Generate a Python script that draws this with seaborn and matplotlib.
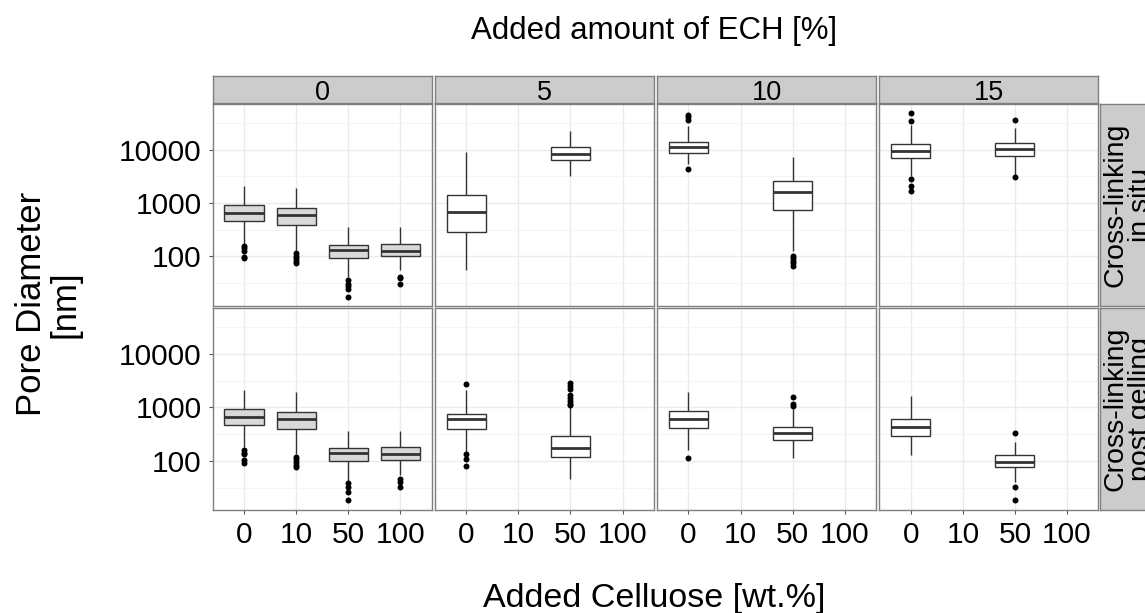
import numpy as np
import pandas as pd
import matplotlib
matplotlib.use("Agg")
import matplotlib.pyplot as plt
import seaborn as sns
from matplotlib.ticker import FixedLocator, FuncFormatter, NullFormatter

# ------------------------------------------------------------------ data
row_labels = ["Cross-linking\nin situ", "Cross-linking\npost gelling"]
ech_levels = ["0", "5", "10", "15"]
cellulose_levels = ["0", "10", "50", "100"]

box_row = [0, 0, 0, 0, 0, 0, 0, 0, 0, 0,
           1, 1, 1, 1, 1, 1, 1, 1, 1, 1]
box_ech = ["0", "0", "0", "0", "5", "5", "10", "10", "15", "15",
           "0", "0", "0", "0", "5", "5", "10", "10", "15", "15"]
box_cellulose = ["0", "10", "50", "100", "0", "50", "0", "50", "0", "50",
                 "0", "10", "50", "100", "0", "50", "0", "50", "0", "50"]

whisker_low = [173, 130, 41, 56, 55, 3160, 5390, 128, 3260, 3400,
               182, 133, 40.6, 54, 147, 45, 158, 114, 128, 40.6]
q1 = [467, 388, 93, 102, 290, 6410, 8530, 741, 6870, 7620,
      476, 385, 97.5, 104.5, 389, 117, 412, 240, 288, 75]
median = [650, 597, 135, 129, 679, 8300, 11040, 1610, 9290, 10440,
          671, 616, 139, 135, 616, 175, 616, 324, 425, 96]
q3 = [918, 818, 166, 171, 1416, 11040, 13900, 2590, 12790, 13130,
      930, 832, 170, 178, 764, 288, 853, 430, 598, 126]
whisker_high = [2113, 1915, 360, 360, 9170, 22400, 27000, 7180, 28200, 25100,
                2136, 1928, 353, 353, 2070, 1044, 1928, 946, 1603, 226]
outliers = [
    [159, 141, 128, 99, 93],
    [114, 102, 93, 83, 74],
    [36, 31, 28, 24.5, 17.8],
    [42, 40, 30],
    [],
    [],
    [44700, 40300, 36000, 4350],
    [103, 93, 83, 74, 65],
    [47900, 33900, 2770, 2113, 1650],
    [36000, 3080],
    [158, 141, 133, 103, 92],
    [119, 106, 95, 84, 77],
    [38, 32, 26.5, 18.5],
    [45, 40.6, 32],
    [2760, 133, 106, 80],
    [2840, 2460, 2230, 1675, 1472, 1294, 1162, 1120],
    [111],
    [1556, 1137, 1076],
    [],
    [324, 32, 18.5],
]

y_ticks = [100, 1000, 10000]
y_minor = [31.62, 316.2, 3162, 31623]

# ------------------------------------------------------------------ tables
box_records = []
out_records = []
for i in range(len(box_row)):
    for v in (whisker_low[i], q1[i], median[i], q3[i], whisker_high[i]):
        box_records.append(dict(row=box_row[i], ech=box_ech[i],
                                cellulose=box_cellulose[i], diameter=v))
    for v in outliers[i]:
        out_records.append(dict(row=box_row[i], ech=box_ech[i],
                                cellulose=box_cellulose[i], diameter=v))
box_df = pd.DataFrame(box_records)
out_df = pd.DataFrame(out_records)

# ------------------------------------------------------------------ style
plt.rcParams["font.family"] = ["Liberation Sans", "DejaVu Sans"]

W, H = 1145, 613
fig = plt.figure(figsize=(W / 100, H / 100), dpi=100)
fig.patch.set_facecolor("white")


def fx(px):
    return px / W


def fy(py):
    return 1 - py / H


panel_left0 = 212.7
panel_w = 218.85
gap_x = 3.4
panel_top0 = 104.0
panel_h = 201.7
gap_y = 2.6

border = "#7F7F7F"
strip_fill = "#CCCCCC"
line_col = "#333333"

for r in range(2):
    for c, ech in enumerate(ech_levels):
        left = panel_left0 + c * (panel_w + gap_x)
        top = panel_top0 + r * (panel_h + gap_y)
        ax = fig.add_axes([fx(left), fy(top + panel_h), panel_w / W, panel_h / H])
        ax.set_yscale("log")
        ax.set_facecolor("white")

        fill = "#D9D9D9" if ech == "0" else "white"
        sub = box_df[(box_df.row == r) & (box_df.ech == ech)]
        sns.boxplot(data=sub, x="cellulose", y="diameter", order=cellulose_levels,
                    ax=ax, whis=(0, 100), width=0.75, color=fill, saturation=1,
                    linecolor=line_col, linewidth=1.0, fliersize=0,
                    medianprops=dict(linewidth=2.0, color=line_col),
                    capprops=dict(linewidth=0))
        osub = out_df[(out_df.row == r) & (out_df.ech == ech)]
        if len(osub):
            sns.stripplot(data=osub, x="cellulose", y="diameter",
                          order=cellulose_levels, ax=ax, jitter=False,
                          color="black", size=4.3, linewidth=0, zorder=5)

        ax.set_xlim(-0.6, 3.6)
        ax.set_ylim(12.0, 71100)
        ax.set_xlabel("")
        ax.set_ylabel("")
        ax.yaxis.set_major_locator(FixedLocator(y_ticks))
        ax.yaxis.set_minor_locator(FixedLocator(y_minor))
        ax.yaxis.set_major_formatter(FuncFormatter(lambda v, p: f"{int(round(v))}"))
        ax.yaxis.set_minor_formatter(NullFormatter())
        ax.set_axisbelow(True)
        ax.grid(True, which="major", axis="both", color="#EBEBEB", linewidth=1.0)
        ax.grid(True, which="minor", axis="y", color="#F4F4F4", linewidth=0.8)
        for s in ax.spines.values():
            s.set_color(border)
            s.set_linewidth(1.0)
        ax.tick_params(axis="both", which="major", length=3.0, width=0.8,
                       color="#555555", labelsize=21.5, labelcolor="black", pad=5)
        ax.tick_params(axis="y", which="minor", length=0)
        if r == 0:
            ax.tick_params(axis="x", labelbottom=False, length=0)
        if c != 0:
            ax.tick_params(axis="y", labelleft=False, length=0)

        # top strips
        if r == 0:
            sax = fig.add_axes([fx(left), fy(103.5), panel_w / W, 27.5 / H])
            sax.set_facecolor(strip_fill)
            sax.set_xticks([])
            sax.set_yticks([])
            for s in sax.spines.values():
                s.set_color(border)
                s.set_linewidth(1.0)
            fig.text(fx(left + panel_w / 2), fy(99.5), ech, ha="center",
                     va="baseline", fontsize=19.5, color="black")
    # right strips
    top = panel_top0 + r * (panel_h + gap_y)
    rax = fig.add_axes([fx(1099.5), fy(top + panel_h), 60 / W, panel_h / H])
    rax.set_facecolor(strip_fill)
    rax.set_xticks([])
    rax.set_yticks([])
    for s in rax.spines.values():
        s.set_color(border)
        s.set_linewidth(1.0)
    fig.text(fx(1128), fy(top + panel_h / 2), row_labels[r], rotation=90,
             ha="center", va="center", multialignment="center",
             fontsize=20.5, color="black", linespacing=0.95)

fig.text(fx(654.5), fy(39), "Added amount of ECH [%]", ha="center",
         va="baseline", fontsize=22.5, color="black")
fig.text(fx(654.5), fy(606.7), "Added Celluose [wt.%]", ha="center",
         va="baseline", fontsize=24.5, color="black")
fig.text(fx(48), fy(304), "Pore Diameter\n[nm]", rotation=90, ha="center",
         va="center", multialignment="center", fontsize=25, color="black",
         linespacing=1.0)

fig.savefig("out.png", dpi=100, facecolor="white")
